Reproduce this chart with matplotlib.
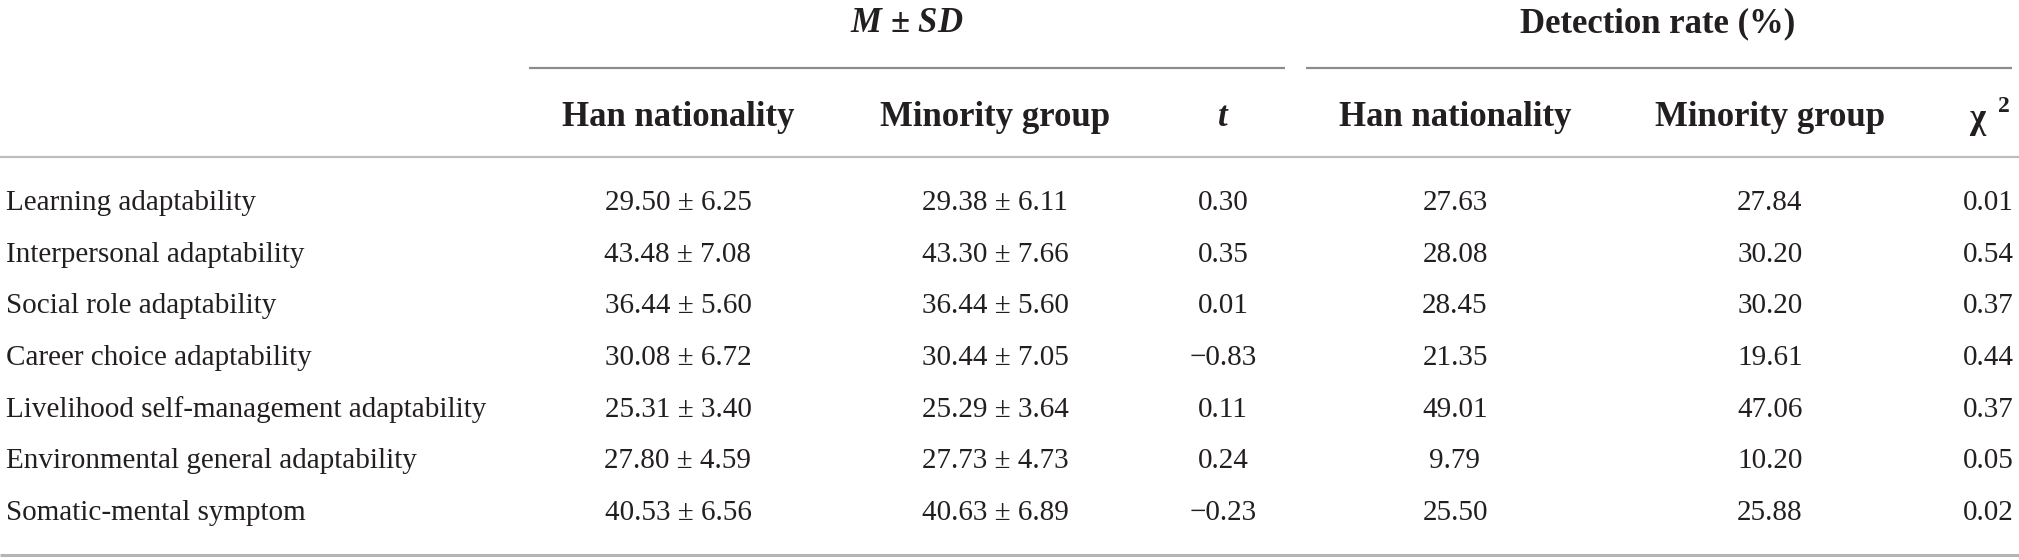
import matplotlib
matplotlib.use("Agg")
import matplotlib.pyplot as plt

plt.rcParams['font.family'] = ['Liberation Serif', 'DejaVu Serif']
plt.rcParams['mathtext.fontset'] = 'custom'
plt.rcParams['mathtext.it'] = 'Liberation Serif:italic:bold'
plt.rcParams['mathtext.rm'] = 'Liberation Serif:bold'
plt.rcParams['mathtext.bf'] = 'Liberation Serif:bold'

# table data
row_labels = ["Learning adaptability", "Interpersonal adaptability",
              "Social role adaptability", "Career choice adaptability",
              "Livelihood self-management adaptability",
              "Environmental general adaptability", "Somatic-mental symptom"]
han_mean = [29.50, 43.48, 36.44, 30.08, 25.31, 27.80, 40.53]
han_sd = [6.25, 7.08, 5.60, 6.72, 3.40, 4.59, 6.56]
min_mean = [29.38, 43.30, 36.44, 30.44, 25.29, 27.73, 40.63]
min_sd = [6.11, 7.66, 5.60, 7.05, 3.64, 4.73, 6.89]
t_vals = [0.30, 0.35, 0.01, -0.83, 0.11, 0.24, -0.23]
han_rate = [27.63, 28.08, 28.45, 21.35, 49.01, 9.79, 25.50]
min_rate = [27.84, 30.20, 30.20, 19.61, 47.06, 10.20, 25.88]
chi2_vals = [0.01, 0.54, 0.37, 0.44, 0.37, 0.05, 0.02]
col_headers = ["Han nationality", "Minority group", None,
               "Han nationality", "Minority group", None]

TXT = "#231f20"
RULE = "#a8a8a8"


def fmt(v):
    return f"{v:.2f}".replace("-", "\u2212")


fig = plt.figure(figsize=(20.19, 5.6), dpi=100)
ax = fig.add_axes([0, 0, 1, 1])
ax.set_xlim(0, 2019)
ax.set_ylim(560, 0)
ax.axis("off")

col_x = [678, 995, 1223, 1455, 1770, 1988]
hdr_size = 25
body_size = 21

# group headers and their rules
ax.text(907, 24, r"$M$ ± $SD$", ha="center", va="center", fontsize=hdr_size,
        fontweight="bold", color=TXT)
ax.text(1658, 24, "Detection rate (%)", ha="center", va="center",
        fontsize=hdr_size, fontweight="bold", color=TXT)
ax.plot([529, 1285], [68, 68], color="#8c8c8c", lw=1.6, solid_capstyle="butt")
ax.plot([1306, 2012], [68, 68], color="#8c8c8c", lw=1.6, solid_capstyle="butt")

# column headers
hy = 117
for x, h in zip(col_x, col_headers):
    if h:
        ax.text(x, hy, h, ha="center", va="center", fontsize=hdr_size,
                fontweight="bold", color=TXT)
ax.text(col_x[2], hy, "t", ha="center", va="center", fontsize=hdr_size,
        fontweight="bold", fontstyle="italic", color=TXT)
ax.text(1977, hy + 2, "\u03c7", ha="center", va="center", fontsize=hdr_size,
        fontweight="bold", color=TXT)
ax.text(2004, hy - 10, "2", ha="center", va="center", fontsize=17,
        fontweight="bold", color=TXT)

ax.plot([0, 2019], [157, 157], color="#bdbdbd", lw=1.6, solid_capstyle="butt")

# body rows
y0, dy = 203, 51.7
for i, lab in enumerate(row_labels):
    y = y0 + i * dy
    ax.text(6, y, lab, ha="left", va="center", fontsize=body_size, color=TXT)
    cells = [f"{han_mean[i]:.2f} ± {han_sd[i]:.2f}",
             f"{min_mean[i]:.2f} ± {min_sd[i]:.2f}",
             fmt(t_vals[i]), fmt(han_rate[i]), fmt(min_rate[i]),
             fmt(chi2_vals[i])]
    for x, c in zip(col_x, cells):
        ax.text(x, y, c, ha="center", va="center", fontsize=body_size, color=TXT)

ax.plot([0, 2019], [555, 555], color="#b5b5b5", lw=2.2, solid_capstyle="butt")

fig.savefig("out.png", dpi=100)
